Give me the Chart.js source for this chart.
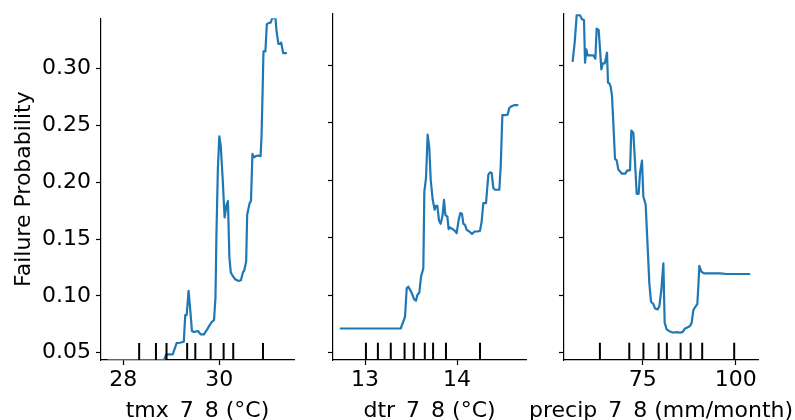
<!DOCTYPE html>
<html>
<head>
<meta charset="utf-8">
<script src="https://cdn.jsdelivr.net/npm/chart.js@4/dist/chart.umd.min.js"></script>
<style>
  html, body { margin: 0; padding: 0; background: #fff; overflow: hidden; }
  #wrap { position: relative; width: 795px; height: 440px; }
  canvas { position: absolute; left: 0; top: 0; }
</style>
</head>
<body>
<div id="wrap">
  <canvas id="c1" width="795" height="440"></canvas>
  <canvas id="c2" width="795" height="440"></canvas>
  <canvas id="c3" width="795" height="440"></canvas>
</div>
<script>
// ---- Data ----
const tmxX = [27.69, 28.85, 28.89, 28.94, 29.03, 29.11, 29.18, 29.26, 29.29, 29.32, 29.36, 29.39, 29.43, 29.47, 29.56, 29.61, 29.68, 29.74, 29.79, 29.84, 29.89, 29.92, 29.94, 29.97, 30.00, 30.03, 30.07, 30.11, 30.15, 30.18, 30.21, 30.24, 30.28, 30.33, 30.40, 30.45, 30.49, 30.52, 30.56, 30.58, 30.63, 30.66, 30.69, 30.72, 30.76, 30.81, 30.86, 30.88, 30.90, 30.92, 30.96, 30.99, 31.04, 31.07, 31.10, 31.17, 31.19, 31.23, 31.26, 31.29, 31.33, 31.39];
const tmxY = [0.0435, 0.0435, 0.0483, 0.0485, 0.0485, 0.0584, 0.0587, 0.0596, 0.0831, 0.0831, 0.1044, 0.0898, 0.0689, 0.0683, 0.0689, 0.066, 0.066, 0.070, 0.0736, 0.0768, 0.0788, 0.0986, 0.1538, 0.212, 0.2405, 0.2323, 0.2032, 0.169, 0.18, 0.1835, 0.1335, 0.1204, 0.1175, 0.1146, 0.1131, 0.1137, 0.1204, 0.1224, 0.1305, 0.1713, 0.1814, 0.1835, 0.225, 0.2221, 0.223, 0.2236, 0.223, 0.241, 0.276, 0.3152, 0.3152, 0.3393, 0.3405, 0.3405, 0.3445, 0.3445, 0.334, 0.3219, 0.3219, 0.323, 0.3137, 0.3137];

const dtrX = [12.736, 13.388, 13.435, 13.453, 13.471, 13.507, 13.533, 13.554, 13.569, 13.59, 13.609, 13.634, 13.645, 13.663, 13.681, 13.699, 13.714, 13.736, 13.757, 13.772, 13.786, 13.804, 13.822, 13.841, 13.859, 13.873, 13.895, 13.909, 13.924, 13.953, 13.978, 13.996, 14.018, 14.036, 14.054, 14.069, 14.087, 14.105, 14.134, 14.163, 14.192, 14.221, 14.25, 14.268, 14.286, 14.315, 14.341, 14.359, 14.377, 14.395, 14.413, 14.46, 14.475, 14.493, 14.522, 14.551, 14.569, 14.594, 14.62, 14.656];
const dtrY = [0.0709, 0.0709, 0.0811, 0.1058, 0.1073, 0.102, 0.0965, 0.0951, 0.1, 0.102, 0.116, 0.1233, 0.1902, 0.2018, 0.2396, 0.228, 0.2003, 0.1829, 0.1742, 0.1777, 0.1777, 0.1649, 0.162, 0.1683, 0.1829, 0.1698, 0.1683, 0.1573, 0.1588, 0.1573, 0.1558, 0.1538, 0.1654, 0.1713, 0.1707, 0.162, 0.1611, 0.1567, 0.1553, 0.1532, 0.1553, 0.1553, 0.1558, 0.164, 0.18, 0.18, 0.2047, 0.2067, 0.2062, 0.1931, 0.1916, 0.1916, 0.212, 0.2565, 0.2565, 0.257, 0.2629, 0.2643, 0.2652, 0.2652];

const precX = [56.18, 56.72, 57.26, 58.15, 58.69, 59.23, 59.5, 59.86, 60.22, 60.66, 61.74, 62.28, 62.63, 63.17, 63.53, 63.89, 64.25, 64.79, 65.14, 65.41, 65.68, 66.04, 66.4, 66.76, 67.11, 67.56, 68.01, 68.46, 68.9, 69.44, 70.34, 70.88, 71.6, 71.95, 72.49, 72.85, 73.39, 73.92, 74.28, 74.82, 75.18, 75.81, 76.25, 76.79, 77.24, 77.87, 78.32, 79.03, 79.48, 80.02, 80.56, 80.91, 81.45, 82.17, 83.06, 84.32, 85.04, 85.75, 86.38, 87.01, 87.72, 88.17, 88.62, 89.16, 89.69, 89.96, 90.23, 90.77, 91.49, 93.1, 95.79, 97.58, 101.17, 103.68];
const precY = [0.3036, 0.3196, 0.3434, 0.3434, 0.3399, 0.3393, 0.3021, 0.3137, 0.3085, 0.3085, 0.3085, 0.3056, 0.3318, 0.3306, 0.3137, 0.2963, 0.3015, 0.3015, 0.3065, 0.3108, 0.2847, 0.2841, 0.2812, 0.273, 0.2498, 0.2184, 0.2172, 0.2091, 0.2076, 0.2056, 0.2056, 0.2085, 0.2085, 0.2431, 0.241, 0.2207, 0.1881, 0.1881, 0.2062, 0.2169, 0.1858, 0.1785, 0.148, 0.1102, 0.0942, 0.0922, 0.0884, 0.0875, 0.0904, 0.1044, 0.1276, 0.0759, 0.0701, 0.0686, 0.0674, 0.0677, 0.0672, 0.068, 0.0709, 0.0718, 0.073, 0.0759, 0.0869, 0.0898, 0.0922, 0.1073, 0.1253, 0.1204, 0.1189, 0.1189, 0.1189, 0.1183, 0.1183, 0.1183];

const tmxDeciles  = [28.33, 28.68, 28.90, 29.33, 29.50, 29.82, 30.09, 30.29, 30.91];
const dtrDeciles  = [13.01, 13.14, 13.28, 13.43, 13.53, 13.65, 13.74, 13.88, 14.25];
const precDeciles = [63.5, 71.4, 75.2, 79.3, 81.5, 85.2, 87.9, 91.0, 99.6];

const tmxRange  = [27.535, 31.556];
const dtrRange  = [12.652, 14.75];
const precRange = [53.85, 106.0];

const tmxTicks  = [28, 30];
const dtrTicks  = [13, 14];
const precTicks = [75, 100];
const yTicks = [0.05, 0.10, 0.15, 0.20, 0.25, 0.30];

const xTitles = ['tmx_7_8 (°C)', 'dtr_7_8 (°C)', 'precip_7_8 (mm/month)'];
const yTitle = 'Failure Probability';

// shared y limits (min/max of all partial dependence values)
const allY = tmxY.concat(dtrY, precY);
const yMin = Math.min(...allY);
const yMax = Math.max(...allY);

// ---- Drawing ----
const FONT = { family: "'DejaVu Sans', sans-serif", size: 22, lineHeight: 1.2 };
const BLUE = '#1f77b4';

// x-axis label centred under the axis, allowed to be wider than the axis
const xTitlePlugin = {
  id: 'xTitle',
  afterDraw(chart, args, opts) {
    const s = chart.scales.x;
    const ctx = chart.ctx;
    ctx.save();
    ctx.font = FONT.size + 'px ' + FONT.family;
    ctx.fillStyle = '#000';
    ctx.textAlign = 'center';
    ctx.textBaseline = 'alphabetic';
    ctx.fillText(opts.text, (s.left + s.right) / 2, s.top + opts.offset);
    ctx.restore();
  }
};

function makePanel(id, xs, ys, deciles, xRange, xTicks, xTitle, first, padLeft, padRight) {
  const datasets = [];
  deciles.forEach(d => {
    datasets.push({
      data: [{ x: d, y: yMin }, { x: d, y: yMin + 0.05 * (yMax - yMin) }],
      borderColor: '#000', borderWidth: 2, pointRadius: 0, tension: 0
    });
  });
  datasets.push({
    data: xs.map((x, i) => ({ x: x, y: ys[i] })),
    borderColor: BLUE, borderWidth: 2.2, pointRadius: 0, tension: 0,
    borderJoinStyle: 'round', borderCapStyle: 'round'
  });
  return new Chart(document.getElementById(id), {
    type: 'line',
    data: { datasets },
    plugins: [xTitlePlugin],
    options: {
      responsive: false,
      animation: false,
      events: [],
      plugins: {
        legend: { display: false }, tooltip: { enabled: false },
        xTitle: { text: xTitle, offset: 57 }
      },
      layout: { padding: { left: padLeft, right: padRight, top: 14, bottom: 0 } },
      scales: {
        x: {
          type: 'linear', min: xRange[0], max: xRange[1],
          afterBuildTicks: s => { s.ticks = xTicks.map(v => ({ value: v })); },
          afterFit: s => { s.height = 80; },
          grid: { drawOnChartArea: false, drawTicks: true, tickLength: 5, tickWidth: 1.2, tickColor: '#000' },
          border: { display: true, color: '#000', width: 1.2 },
          ticks: { font: FONT, color: '#000', padding: 2, maxRotation: 0, autoSkip: false,
                   callback: v => String(v) }
        },
        y: {
          type: 'linear', min: yMin, max: yMax,
          afterBuildTicks: s => { s.ticks = yTicks.map(v => ({ value: v })); },
          afterFit: s => { s.width = first ? 101 : 10; },
          grid: { drawOnChartArea: false, drawTicks: true, tickLength: 5, tickWidth: 1.2, tickColor: '#000' },
          border: { display: true, color: '#000', width: 1.2 },
          ticks: { display: first, font: FONT, color: '#000', padding: 5,
                   callback: v => Number(v).toFixed(2) },
          title: { display: first, text: yTitle, font: FONT, color: '#000', padding: { top: 11, bottom: 0 } }
        }
      }
    }
  });
}

makePanel('c1', tmxX, tmxY, tmxDeciles, tmxRange, tmxTicks, xTitles[0], true, 0, 795 - 294);
makePanel('c2', dtrX, dtrY, dtrDeciles, dtrRange, dtrTicks, xTitles[1], false, 323, 795 - 526);
makePanel('c3', precX, precY, precDeciles, precRange, precTicks, xTitles[2], false, 554, 795 - 758);
</script>
</body>
</html>
